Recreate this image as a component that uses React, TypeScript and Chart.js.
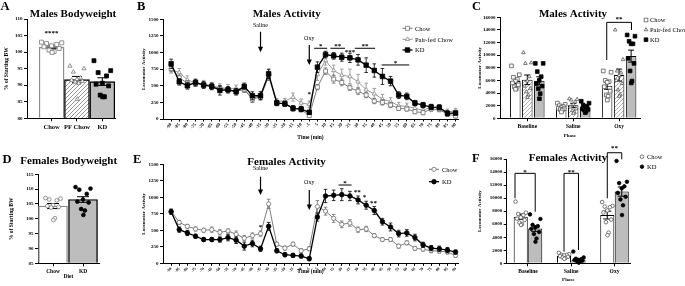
import React, { useEffect, useRef } from 'react';
import { Chart, registerables } from 'chart.js';

Chart.register(...registerables);

// ---------------- DATA ----------------
const timeLabels = ['-90','-85','-80','-75','-70','-65','-60','-55','-50','-45','-40','-35','-30','-25','-20','-15','-10','-5','5','10','15','20','25','30','35','40','45','50','55','60','65','70','75','80','85','90'];

const malesChow = [760,620,540,530,520,490,460,440,420,440,300,330,640,250,220,170,140,50,480,720,600,550,470,420,360,270,250,210,160,150,110,95,150,140,75,45];
const malesChowSem = [50,40,40,40,40,40,40,40,40,40,50,40,60,30,30,30,30,20,40,50,60,50,40,50,40,40,40,40,30,30,30,30,30,30,30,30];
const malesPairFed = [740,700,590,540,530,500,470,460,460,450,310,350,660,270,270,330,240,220,670,880,730,660,640,560,440,380,300,260,200,190,160,130,180,160,110,120];
const malesPairFedSem = [50,60,60,50,50,50,60,60,50,50,60,60,80,40,40,60,60,50,90,70,80,90,110,110,100,80,70,60,50,50,40,40,40,40,40,40];
const malesKD = [830,560,500,550,510,490,430,440,410,490,350,350,680,240,230,160,150,100,780,970,950,930,920,890,810,730,640,570,360,340,240,210,180,175,85,90];
const malesKDSem = [70,50,50,50,50,50,70,50,50,50,60,60,70,40,40,40,40,30,80,50,50,60,70,80,110,100,120,70,50,50,40,40,40,40,40,30];

const femalesChow = [790,620,560,520,500,510,470,490,440,380,420,450,900,290,230,290,190,220,860,790,680,590,610,510,520,420,360,360,260,310,225,215,190,185,170,120];
const femalesChowSem = [30,30,30,30,30,40,40,30,50,40,40,40,70,30,30,30,30,30,90,60,60,50,50,40,40,30,30,30,30,30,30,30,30,30,30,30];
const femalesKD = [780,510,460,410,360,360,360,390,350,260,300,220,560,190,130,120,110,70,700,1020,1030,1040,1020,960,880,800,630,550,450,460,390,280,230,220,200,170];
const femalesKDSem = [40,40,40,30,30,30,40,50,50,60,50,40,60,30,30,30,30,30,60,100,80,90,70,60,60,60,50,60,50,50,50,40,40,40,40,30];

const maleBwGroups = ['Chow', 'PF Chow', 'KD'];
const maleBwMean = [101.5, 91.7, 91.1];
const maleBwSem = [0.35, 0.95, 1.15];
const maleBwChow = [103.0, 102.8, 102.6, 102.3, 101.9, 101.6, 101.1, 100.6, 100.2, 99.9];
const maleBwPairFed = [95.8, 95.0, 94.0, 92.2, 91.8, 91.5, 91.2, 91.0, 90.6, 85.8];
const maleBwKD = [97.4, 94.4, 93.8, 92.8, 90.6, 90.3, 89.8, 87.0, 86.5, 86.5];

const femaleBwGroups = ['Chow', 'KD'];
const femaleBwMean = [104.3, 106.5];
const femaleBwSem = [0.85, 0.95];
const femaleBwChow = [107.0, 106.8, 106.5, 106.2, 104.6, 104.3, 104.0, 103.8, 100.2, 99.6];
const femaleBwKD = [110.7, 110.2, 109.8, 108.4, 106.5, 105.8, 105.5, 103.3, 102.8, 101.3];

const phases = ['Baseline', 'Saline', 'Oxy'];
const maleActChowMean = [5900, 1700, 5150];
const maleActChowSem = [420, 230, 560];
const maleActPairFedMean = [6100, 2050, 6850];
const maleActPairFedSem = [760, 320, 950];
const maleActKDMean = [5950, 1700, 9850];
const maleActKDSem = [620, 190, 950];
const maleActChowPts = [
  [8300, 6900, 6500, 6200, 5900, 5600, 5300, 5000, 4700, 4600],
  [2400, 2200, 2000, 1900, 1700, 1600, 1500, 1400, 1300, 1000],
  [7500, 7300, 6000, 5800, 5700, 5000, 4300, 3700, 3500, 2900],
];
const maleActPairFedPts = [
  [10400, 8800, 8700, 6600, 5900, 5100, 4700, 4200, 3700, 3300],
  [3100, 3000, 2900, 2600, 2200, 1800, 1500, 1200, 1000, 800],
  [14000, 9300, 7500, 7200, 6800, 6000, 5500, 4500, 3800, 3500],
];
const maleActKDPts = [
  [8700, 8700, 7400, 6600, 6000, 5500, 5100, 4700, 3900, 3100],
  [2700, 2400, 2100, 1900, 1700, 1500, 1400, 1300, 1100, 900],
  [13200, 13000, 12200, 11800, 11800, 9500, 8700, 7500, 5900, 5600],
];

const femActChowMean = [7150, 1120, 7400];
const femActChowSem = [400, 100, 600];
const femActKDMean = [5350, 600, 11000];
const femActKDSem = [450, 150, 700];
const femActChowPts = [
  [9460, 7770, 7570, 7410, 7050, 6850, 6650, 6240, 6030, 5880],
  [1600, 1400, 1300, 1300, 1200, 1100, 1000, 900, 800, 700],
  [9400, 8800, 8700, 8600, 8100, 7800, 6700, 6300, 4700, 4300],
];
const femActKDPts = [
  [7500, 6800, 5900, 5700, 5500, 5300, 4800, 4500, 3800, 3300],
  [1800, 900, 700, 600, 500, 500, 400, 300, 200, 100],
  [15700, 12500, 12300, 11800, 11500, 10800, 10200, 9800, 8900, 7400],
];

// ---------------- HELPERS ----------------
const FAM = '"Liberation Serif", "Times New Roman", serif';
const fnt = (size: number, weight: string = 'bold') => ({ family: FAM, size, weight });
const css = (size: number, bold = true) => `${bold ? 'bold ' : ''}${size}px ${FAM}`;
const JIT = [-1, 1, -0.5, 0.5, 0, -0.75, 0.75, -0.25, 0.25, 0.05];

function spread(values: number[], center: number, width: number) {
  return values.map((v, i) => ({ x: center + JIT[i % JIT.length] * width, y: v }));
}

function drawMarker(ctx: CanvasRenderingContext2D, style: string, x: number, y: number, r: number, fill: string, stroke: string, lw = 0.8) {
  ctx.save();
  ctx.beginPath();
  if (style === 'rect') {
    const s = r * Math.SQRT1_2;
    ctx.rect(x - s, y - s, 2 * s, 2 * s);
  } else if (style === 'triangle') {
    let a = 0;
    ctx.moveTo(x + Math.sin(a) * r, y - Math.cos(a) * r);
    a += (2 * Math.PI) / 3;
    ctx.lineTo(x + Math.sin(a) * r, y - Math.cos(a) * r);
    a += (2 * Math.PI) / 3;
    ctx.lineTo(x + Math.sin(a) * r, y - Math.cos(a) * r);
    ctx.closePath();
  } else {
    ctx.arc(x, y, r, 0, Math.PI * 2);
  }
  ctx.fillStyle = fill;
  ctx.fill();
  ctx.strokeStyle = stroke;
  ctx.lineWidth = lw;
  ctx.stroke();
  ctx.restore();
}

function drawErr(chart: any, index: number, after: boolean) {
  const ds: any = chart.data.datasets[index];
  if (!ds || !ds.errorBars) return;
  const meta = chart.getDatasetMeta(index);
  const isBar = meta.type === 'bar';
  if (isBar !== after) return;
  const ys = chart.scales[meta.yAxisID];
  const ctx = chart.ctx;
  ctx.save();
  ctx.strokeStyle = ds.errorColor || '#000';
  ctx.lineWidth = ds.errorWidth || 1;
  const cw = ds.capWidth || 2;
  meta.data.forEach((el: any, i: number) => {
    const d = ds.data[i];
    const v = typeof d === 'number' ? d : d.y;
    const e = ds.errorBars[i];
    const x = el.x;
    const yTop = ys.getPixelForValue(v + e);
    const yBot = ys.getPixelForValue(v - e);
    ctx.beginPath();
    ctx.moveTo(x, yTop); ctx.lineTo(x, yBot);
    ctx.moveTo(x - cw, yTop); ctx.lineTo(x + cw, yTop);
    ctx.moveTo(x - cw, yBot); ctx.lineTo(x + cw, yBot);
    ctx.stroke();
  });
  ctx.restore();
}

const errorBarPlugin = {
  id: 'errbars',
  beforeDatasetDraw(chart: any, args: any) { drawErr(chart, args.index, false); },
  afterDatasetDraw(chart: any, args: any) { drawErr(chart, args.index, true); },
};

function makeDecor(items: any[]) {
  return {
    id: 'decor',
    afterDraw(chart: any) {
      const ctx: CanvasRenderingContext2D = chart.ctx;
      const xs = chart.scales.x, ys = chart.scales.y;
      const X = (v: number) => xs.getPixelForValue(v);
      const Y = (v: number) => ys.getPixelForValue(v);
      ctx.save();
      for (const it of items) {
        ctx.fillStyle = it.color || '#000';
        ctx.strokeStyle = it.color || '#000';
        ctx.lineWidth = it.lw || 1;
        if (it.t === 'text') {
          ctx.font = it.font;
          ctx.textAlign = it.align || 'center';
          ctx.textBaseline = it.baseline || 'alphabetic';
          ctx.fillText(it.text, it.px, it.py);
        } else if (it.t === 'dtext') {
          ctx.font = it.font;
          ctx.textAlign = 'center';
          ctx.textBaseline = 'middle';
          ctx.fillText(it.text, X(it.x), Y(it.y));
        } else if (it.t === 'star') {
          ctx.font = css(it.size || 7);
          ctx.textAlign = 'center';
          ctx.textBaseline = 'alphabetic';
          ctx.fillText(it.text, X(it.x), Y(it.y) + 0.45 * (it.size || 7));
        } else if (it.t === 'hline') {
          ctx.beginPath();
          ctx.moveTo(X(it.x1), Y(it.y));
          ctx.lineTo(X(it.x2), Y(it.y));
          ctx.stroke();
        } else if (it.t === 'bracket') {
          const y = Y(it.y);
          ctx.beginPath();
          ctx.moveTo(X(it.x1), Y(it.lo1));
          ctx.lineTo(X(it.x1), y);
          ctx.lineTo(X(it.x2), y);
          ctx.lineTo(X(it.x2), Y(it.lo2));
          ctx.stroke();
        } else if (it.t === 'arrow') {
          const x = X(it.x), y1 = Y(it.y1), y2 = Y(it.y2);
          ctx.lineWidth = 1.2;
          ctx.beginPath();
          ctx.moveTo(x, y1); ctx.lineTo(x, y2 - 4);
          ctx.stroke();
          ctx.beginPath();
          ctx.moveTo(x - 2.6, y2 - 5.5); ctx.lineTo(x + 2.6, y2 - 5.5); ctx.lineTo(x, y2);
          ctx.closePath();
          ctx.fill();
        } else if (it.t === 'legend') {
          if (it.line) {
            ctx.strokeStyle = it.lineColor || it.stroke;
            ctx.lineWidth = it.lineWidth || 1;
            ctx.beginPath();
            ctx.moveTo(it.px - 5, it.py); ctx.lineTo(it.px + 5, it.py);
            ctx.stroke();
          }
          drawMarker(ctx, it.style, it.px, it.py, it.r || 2.4, it.fill, it.stroke);
          ctx.fillStyle = '#000';
          ctx.font = css(it.size || 6.5, false);
          ctx.textAlign = 'left';
          ctx.textBaseline = 'middle';
          ctx.fillText(it.text, it.tx, it.py + 0.5);
        }
      }
      ctx.restore();
    },
  };
}

function makeHatch(ctx: CanvasRenderingContext2D, color: string) {
  const c = document.createElement('canvas');
  const s = 4;
  c.width = s; c.height = s;
  const g = c.getContext('2d')!;
  g.fillStyle = '#fff';
  g.fillRect(0, 0, s, s);
  g.strokeStyle = color;
  g.lineWidth = 0.9;
  g.beginPath();
  g.moveTo(0, s); g.lineTo(s, 0);
  g.moveTo(-1, 1); g.lineTo(1, -1);
  g.moveTo(s - 1, s + 1); g.lineTo(s + 1, s - 1);
  g.stroke();
  return ctx.createPattern(c, 'repeat');
}

function valueAxis(min: number, max: number, step: number, width: number, title: string, titlePad: number, titleSize: number) {
  return {
    type: 'linear', min, max, position: 'left',
    ticks: { stepSize: step, font: fnt(5), color: '#000', padding: 1.5, callback: (v: any) => String(v) },
    grid: { drawOnChartArea: false, drawTicks: true, tickLength: 3, tickColor: '#000', tickWidth: 1 },
    border: { display: true, color: '#000', width: 1 },
    title: { display: true, text: title, font: fnt(titleSize), color: '#000', padding: { top: titlePad, bottom: 0 } },
    afterFit: (s: any) => { s.width = width; },
  };
}

function indexAxis(min: number, max: number, labels: string[], height: number, o: any) {
  return {
    type: 'linear', min, max, offset: false, position: 'bottom',
    afterBuildTicks: (s: any) => { s.ticks = labels.map((_, i) => ({ value: i })); },
    ticks: {
      autoSkip: false, maxRotation: o.rot || 0, minRotation: o.rot || 0, padding: o.tickPad ?? 2,
      font: fnt(o.labelSize || 6), color: '#000',
      callback: (v: any) => labels[v] ?? '',
    },
    grid: { drawOnChartArea: false, drawTicks: true, tickLength: o.tickLen || 3, tickColor: '#000', tickWidth: 1, offset: false },
    border: { display: true, color: '#000', width: 1 },
    title: o.title
      ? { display: true, text: o.title, font: fnt(o.titleSize || 5.5), color: '#000', padding: { top: 0, bottom: o.titlePad } }
      : { display: false },
    afterFit: (s: any) => { s.height = height; },
  };
}

function baseOptions(cw: number, area: any, scales: any) {
  return {
    responsive: false,
    animation: false,
    devicePixelRatio: 1,
    events: [],
    layout: { padding: { left: 0, top: area.top, right: cw - area.right, bottom: 0 } },
    plugins: { legend: { display: false }, tooltip: { enabled: false }, title: { display: false } },
    scales,
  };
}

function lineDs(values: number[], sem: number[], style: string, fill: string, stroke: string, lw: number, r: number, order: number) {
  return {
    type: 'line',
    data: values.map((v, i) => ({ x: i, y: v })),
    borderColor: stroke,
    backgroundColor: fill,
    borderWidth: lw,
    pointStyle: style,
    pointRadius: r,
    pointBackgroundColor: fill,
    pointBorderColor: stroke,
    pointBorderWidth: 0.8,
    tension: 0,
    clip: false,
    order,
    errorBars: sem,
    errorColor: stroke,
    errorWidth: 0.8,
    capWidth: 1.8,
  };
}

function pointsDs(pts: { x: number; y: number }[], style: string, fill: string, stroke: string, r: number) {
  return {
    type: 'line',
    showLine: false,
    data: pts,
    pointStyle: style,
    pointRadius: r,
    pointBackgroundColor: fill,
    pointBorderColor: stroke,
    pointBorderWidth: 0.8,
    borderColor: stroke,
    backgroundColor: fill,
    clip: false,
    order: 0,
  };
}

// ---------------- PANEL BUILDERS ----------------
const GRAY = '#7a7a7a';
const BARGRAY = '#bdbdbd';

function buildA(ctx: CanvasRenderingContext2D) {
  const cw = 130, ch = 145;
  const area = { left: 27, right: 115, top: 19, bottom: 118.3 };
  const hatch = makeHatch(ctx, '#8a8a8a');
  return {
    type: 'bar',
    data: {
      datasets: [
        {
          type: 'bar',
          data: maleBwMean.map((v, i) => ({ x: i, y: v })),
          backgroundColor: ['#ffffff', hatch, BARGRAY],
          borderColor: ['#8c8c8c', '#000', '#000'],
          borderWidth: 1.4,
          barThickness: 25,
          base: 80,
          order: 2,
          errorBars: maleBwSem,
          capWidth: 5,
        },
        pointsDs(spread(maleBwChow, 0, 0.4), 'rect', '#fff', GRAY, 2.8),
        pointsDs(spread(maleBwPairFed, 1, 0.28), 'triangle', '#fff', GRAY, 2.4),
        pointsDs(spread(maleBwKD, 2, 0.33), 'rect', '#000', '#000', 2.8),
      ],
    },
    options: baseOptions(cw, area, {
      x: indexAxis(-0.97, 2.5, maleBwGroups, ch - area.bottom, { labelSize: 6.5 }),
      y: valueAxis(80, 110, 5, area.left, '% of Starting BW', 3.6, 5.5),
    }),
    plugins: [errorBarPlugin, makeDecor([
      { t: 'text', px: 0.5, py: 10, text: 'A', font: css(12.5), align: 'left' },
      { t: 'text', px: 73, py: 16.5, text: 'Males Bodyweight', font: css(11) },
      { t: 'star', x: 0, y: 106, text: '****', size: 7 },
    ])],
  };
}

function buildB(ctx: CanvasRenderingContext2D) {
  const cw = 340, ch = 145;
  const area = { left: 33, right: 328, top: 19.3, bottom: 119 };
  return {
    type: 'line',
    data: {
      datasets: [
        lineDs(malesChow, malesChowSem, 'rect', '#fff', '#6e6e6e', 0.9, 2.8, 1),
        lineDs(malesPairFed, malesPairFedSem, 'triangle', '#fff', '#8c8c8c', 0.9, 2.4, 2),
        lineDs(malesKD, malesKDSem, 'rect', '#000', '#000', 1.3, 3.2, 0),
      ],
    },
    options: baseOptions(cw, area, {
      x: indexAxis(-1, 35.3, timeLabels, ch - area.bottom, { rot: 45, labelSize: 4.5, tickPad: 0.5, tickLen: 2.5, title: 'Time (min)', titlePad: 4.1, titleSize: 5.5 }),
      y: valueAxis(0, 1500, 250, area.left, 'Locomotor Activity', 11, 5),
    }),
    plugins: [errorBarPlugin, makeDecor([
      { t: 'text', px: 7, py: 10, text: 'B', font: css(12.5), align: 'left' },
      { t: 'text', px: 156.7, py: 16.5, text: 'Males Activity', font: css(11) },
      { t: 'dtext', x: 11, y: 1414, text: 'Saline', font: css(6, false) },
      { t: 'arrow', x: 11, y1: 1313, y2: 1003 },
      { t: 'dtext', x: 17, y: 1214, text: 'Oxy', font: css(6, false) },
      { t: 'arrow', x: 17, y1: 1113, y2: 812 },
      { t: 'star', x: 17, y: 387, text: '*', size: 7 },
      { t: 'hline', x1: 17.6, x2: 19.2, y: 1064 },
      { t: 'star', x: 18.4, y: 1118, text: '*', size: 7 },
      { t: 'hline', x1: 19.6, x2: 21.4, y: 1064 },
      { t: 'star', x: 20.5, y: 1118, text: '**', size: 7 },
      { t: 'star', x: 22, y: 1030, text: '***', size: 7 },
      { t: 'hline', x1: 22.6, x2: 25.1, y: 1064 },
      { t: 'star', x: 23.85, y: 1118, text: '**', size: 7 },
      { t: 'hline', x1: 25.9, x2: 29.3, y: 813 },
      { t: 'star', x: 27.6, y: 866, text: '*', size: 7 },
      { t: 'legend', px: 277.5, py: 28.3, tx: 285, text: 'Chow', style: 'rect', fill: '#fff', stroke: '#6e6e6e', line: true, r: 2.8 },
      { t: 'legend', px: 277.5, py: 39.3, tx: 285, text: 'Pair-fed Chow', style: 'triangle', fill: '#fff', stroke: '#8c8c8c', line: true, r: 2.4 },
      { t: 'legend', px: 277.5, py: 50, tx: 285, text: 'KD', style: 'rect', fill: '#000', stroke: '#000', line: true, r: 3.2, lineWidth: 1.3 },
    ])],
  };
}

function buildC(ctx: CanvasRenderingContext2D) {
  const cw = 215, ch = 145;
  const area = { left: 30, right: 170, top: 17.3, bottom: 118.3 };
  const hatch = makeHatch(ctx, '#a5a5a5');
  const off = 0.26;
  const barCommon = { type: 'bar', categoryPercentage: 0.784, barPercentage: 0.875, borderWidth: 1, borderColor: '#000', base: 0, order: 2, capWidth: 3 };
  const ptsFor = (arr: number[][], o: number) => arr.flatMap((vals, g) => spread(vals, g + o, 0.085));
  return {
    type: 'bar',
    data: {
      datasets: [
        { ...barCommon, data: maleActChowMean.map((v, i) => ({ x: i, y: v })), backgroundColor: '#fff', errorBars: maleActChowSem },
        { ...barCommon, data: maleActPairFedMean.map((v, i) => ({ x: i, y: v })), backgroundColor: hatch, errorBars: maleActPairFedSem },
        { ...barCommon, data: maleActKDMean.map((v, i) => ({ x: i, y: v })), backgroundColor: BARGRAY, errorBars: maleActKDSem },
        pointsDs(ptsFor(maleActChowPts, -off), 'rect', '#fff', '#555', 2.6),
        pointsDs(ptsFor(maleActPairFedPts, 0), 'triangle', '#fff', '#555', 2.1),
        pointsDs(ptsFor(maleActKDPts, off), 'rect', '#000', '#000', 2.6),
      ],
    },
    options: baseOptions(cw, area, {
      x: indexAxis(-0.595, 2.455, phases, ch - area.bottom, { labelSize: 5.5, title: 'Phase', titlePad: 6, titleSize: 5 }),
      y: valueAxis(0, 16000, 2000, area.left, 'Locomotor Activity', 7, 5),
    }),
    plugins: [errorBarPlugin, makeDecor([
      { t: 'text', px: 2, py: 10, text: 'C', font: css(12.5), align: 'left' },
      { t: 'text', px: 103, py: 16.5, text: 'Males Activity', font: css(11) },
      { t: 'bracket', x1: 2 - 0.27, x2: 2 + 0.27, y: 15200, lo1: 9235, lo2: 13990 },
      { t: 'star', x: 2, y: 15900, text: '**', size: 7 },
      { t: 'legend', px: 176, py: 20, tx: 180, text: 'Chow', style: 'rect', fill: '#fff', stroke: '#555', r: 2.6 },
      { t: 'legend', px: 176, py: 29.7, tx: 180, text: 'Pair-fed Chow', style: 'triangle', fill: '#fff', stroke: '#555', r: 2.1 },
      { t: 'legend', px: 176, py: 39.7, tx: 180, text: 'KD', style: 'rect', fill: '#000', stroke: '#000', r: 2.6 },
    ])],
  };
}

function buildD(ctx: CanvasRenderingContext2D) {
  const cw = 130, ch = 141;
  const area = { left: 38, right: 99, top: 29.3, bottom: 118.3 };
  return {
    type: 'bar',
    data: {
      datasets: [
        {
          type: 'bar',
          data: femaleBwMean.map((v, i) => ({ x: i, y: v })),
          backgroundColor: ['#ffffff', BARGRAY],
          borderColor: ['#8c8c8c', '#000'],
          borderWidth: 1.4,
          barThickness: 29,
          base: 85,
          order: 2,
          errorBars: femaleBwSem,
          capWidth: 6,
        },
        pointsDs(spread(femaleBwChow, 0, 0.25), 'circle', '#fff', GRAY, 1.9),
        pointsDs(spread(femaleBwKD, 1, 0.25), 'circle', '#000', '#000', 1.9),
      ],
    },
    options: baseOptions(cw, area, {
      x: indexAxis(-0.5, 1.533, femaleBwGroups, ch - area.bottom, { labelSize: 5.5, title: 'Diet', titlePad: 5.7, titleSize: 5.5 }),
      y: valueAxis(85, 115, 5, area.left, '% of Starting BW', 8.4, 5.5),
    }),
    plugins: [errorBarPlugin, makeDecor([
      { t: 'text', px: 2.5, py: 18.3, text: 'D', font: css(12.5), align: 'left' },
      { t: 'text', px: 68.7, py: 19, text: 'Females Bodyweight', font: css(11) },
    ])],
  };
}

function buildE(ctx: CanvasRenderingContext2D) {
  const cw = 340, ch = 141;
  const area = { left: 33, right: 328, top: 19.3, bottom: 118.3 };
  return {
    type: 'line',
    data: {
      datasets: [
        lineDs(femalesChow, femalesChowSem, 'circle', '#fff', '#6e6e6e', 0.9, 2.1, 1),
        lineDs(femalesKD, femalesKDSem, 'circle', '#000', '#000', 1.3, 2.3, 0),
      ],
    },
    options: baseOptions(cw, area, {
      x: indexAxis(-1, 35.3, timeLabels, ch - area.bottom, { rot: 45, labelSize: 4, tickPad: 0.5, tickLen: 2.5, title: 'Time (min)', titlePad: 11, titleSize: 5.5 }),
      y: valueAxis(0, 1500, 250, area.left, 'Locomotor Activity', 11, 5),
    }),
    plugins: [errorBarPlugin, makeDecor([
      { t: 'text', px: 3, py: 18, text: 'E', font: css(12.5), align: 'left' },
      { t: 'text', px: 156.6, py: 20, text: 'Females Activity', font: css(11) },
      { t: 'dtext', x: 11, y: 1439, text: 'Saline', font: css(6, false) },
      { t: 'arrow', x: 11, y1: 1312, y2: 1035 },
      { t: 'dtext', x: 17, y: 1221, text: 'Oxy', font: css(6, false) },
      { t: 'arrow', x: 17, y1: 1111, y2: 808 },
      { t: 'star', x: 11, y: 565, text: '*', size: 7 },
      { t: 'hline', x1: 20.6, x2: 22.2, y: 1186 },
      { t: 'star', x: 21.4, y: 1235, text: '*', size: 7 },
      { t: 'star', x: 22.9, y: 1100, text: '**', size: 7 },
      { t: 'star', x: 23.8, y: 1024, text: '*', size: 7 },
      { t: 'star', x: 24.9, y: 933, text: '**', size: 7 },
      { t: 'legend', px: 304, py: 24.3, tx: 312, text: 'Chow', style: 'circle', fill: '#fff', stroke: '#6e6e6e', line: true, r: 2.1 },
      { t: 'legend', px: 304, py: 36.7, tx: 312, text: 'KD', style: 'circle', fill: '#000', stroke: '#000', line: true, r: 2.3, lineWidth: 1.3 },
    ])],
  };
}

function buildF(ctx: CanvasRenderingContext2D) {
  const cw = 215, ch = 141;
  const area = { left: 36.7, right: 160, top: 14, bottom: 118.3 };
  const off = 0.167;
  const barCommon = { type: 'bar', categoryPercentage: 0.67, barPercentage: 0.97, borderWidth: 1, borderColor: '#000', base: 0, order: 2, capWidth: 4 };
  const ptsFor = (arr: number[][], o: number) => arr.flatMap((vals, g) => spread(vals, g + o, 0.12));
  return {
    type: 'bar',
    data: {
      datasets: [
        { ...barCommon, data: femActChowMean.map((v, i) => ({ x: i, y: v })), backgroundColor: '#fff', errorBars: femActChowSem },
        { ...barCommon, data: femActKDMean.map((v, i) => ({ x: i, y: v })), backgroundColor: BARGRAY, errorBars: femActKDSem },
        pointsDs(ptsFor(femActChowPts, -off), 'circle', '#fff', '#555', 1.8),
        pointsDs(ptsFor(femActKDPts, off), 'circle', '#000', '#000', 1.8),
      ],
    },
    options: baseOptions(cw, area, {
      x: indexAxis(-0.492, 2.358, phases, ch - area.bottom, { labelSize: 5.5, title: 'Phase', titlePad: 3, titleSize: 5 }),
      y: valueAxis(0, 16000, 2000, area.left, 'Locomotor Activity', 7, 5),
    }),
    plugins: [errorBarPlugin, makeDecor([
      { t: 'text', px: 2, py: 16.7, text: 'F', font: css(12.5), align: 'left' },
      { t: 'text', px: 98, py: 15.7, text: 'Females Activity', font: css(11) },
      { t: 'bracket', x1: -0.3, x2: off, y: 13800, lo1: 9970, lo2: 7920 },
      { t: 'star', x: -0.07, y: 14250, text: '*', size: 7 },
      { t: 'bracket', x1: 1 - off, x2: 1 + off, y: 13800, lo1: 1780, lo2: 2040 },
      { t: 'star', x: 1, y: 14250, text: '**', size: 7 },
      { t: 'bracket', x1: 2 - off, x2: 2 + off, y: 16960, lo1: 9970, lo2: 15950 },
      { t: 'star', x: 2, y: 17900, text: '**', size: 7 },
      { t: 'legend', px: 172, py: 11.7, tx: 177, text: 'Chow', style: 'circle', fill: '#fff', stroke: '#555', r: 1.8 },
      { t: 'legend', px: 172, py: 21.7, tx: 177, text: 'KD', style: 'circle', fill: '#000', stroke: '#000', r: 1.8 },
    ])],
  };
}

// ---------------- COMPONENTS ----------------
function Panel({ left, top, width, height, build }: { left: number; top: number; width: number; height: number; build: (ctx: CanvasRenderingContext2D) => any }) {
  const ref = useRef<HTMLCanvasElement | null>(null);
  useEffect(() => {
    const cv = ref.current;
    if (!cv) return;
    const chart = new Chart(cv, build(cv.getContext('2d')!) as any);
    return () => chart.destroy();
  }, [build]);
  return (
    <canvas
      ref={ref}
      width={width}
      height={height}
      style={{ position: 'absolute', left, top, width, height, display: 'block' }}
    />
  );
}

export default function App() {
  return (
    <div style={{ position: 'absolute', left: 0, top: 0, width: 685, height: 286, background: '#fff', overflow: 'hidden' }}>
      <Panel left={0} top={0} width={130} height={145} build={buildA} />
      <Panel left={130} top={0} width={340} height={145} build={buildB} />
      <Panel left={470} top={0} width={215} height={145} build={buildC} />
      <Panel left={0} top={145} width={130} height={141} build={buildD} />
      <Panel left={130} top={145} width={340} height={141} build={buildE} />
      <Panel left={470} top={145} width={215} height={141} build={buildF} />
    </div>
  );
}
